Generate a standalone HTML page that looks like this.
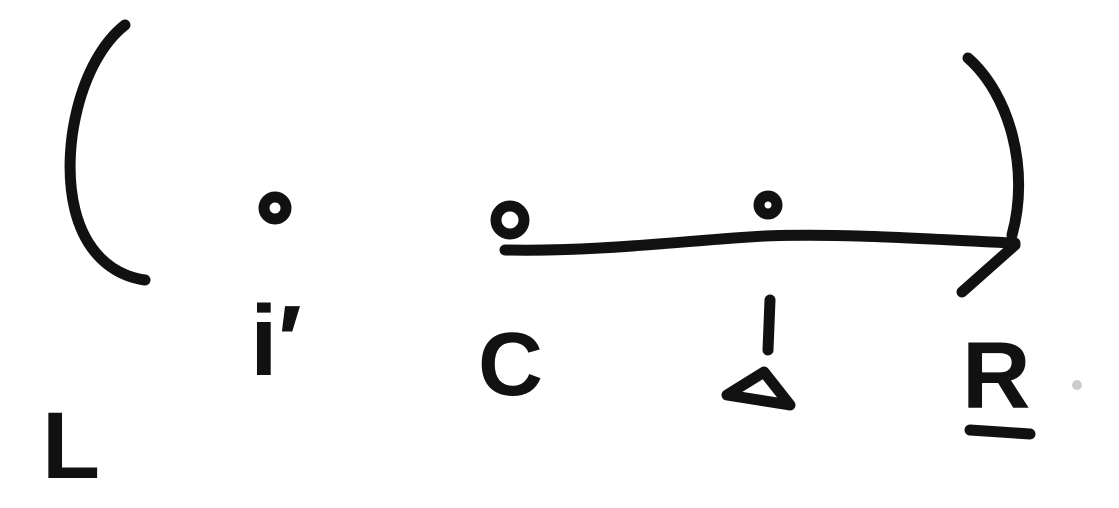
<!DOCTYPE html>
<html><head><meta charset="utf-8"><style>
html,body{margin:0;padding:0;background:#fff;}
svg{display:block;}
text{font-family:"Liberation Sans",sans-serif;font-weight:bold;fill:#111;}
</style></head><body>
<svg width="1119" height="508" viewBox="0 0 1119 508" xmlns="http://www.w3.org/2000/svg">
<g fill="none" stroke="#111" stroke-width="11" stroke-linecap="round" stroke-linejoin="round">
<path d="M125 25 C80 60 60 150 75 210 C85 250 110 275 145 280"/>
<path d="M968 58 C1010 95 1030 170 1012 235"/>
<path d="M1015 245 L962 292"/>
<path d="M505 250 C600 252 690 240 765 236 C850 233 940 240 1015 243"/>
<circle cx="275" cy="208" r="11"/>
<circle cx="510" cy="220" r="14"/>
<circle cx="768" cy="205" r="9"/>
<path d="M764 372 L727 395 L790 405 Z"/>
<path d="M970 430 L1030 434"/>
<path d="M770 300 L768 350"/>
</g>
<text x="250" y="375" font-size="100">i′</text>
<text x="478" y="395" font-size="90">C</text>
<text x="962" y="408" font-size="95">R</text>
<text x="42" y="478" font-size="95">L</text>
<circle cx="1077" cy="385" r="5" fill="#ccc"/>
</svg>
</body></html>
